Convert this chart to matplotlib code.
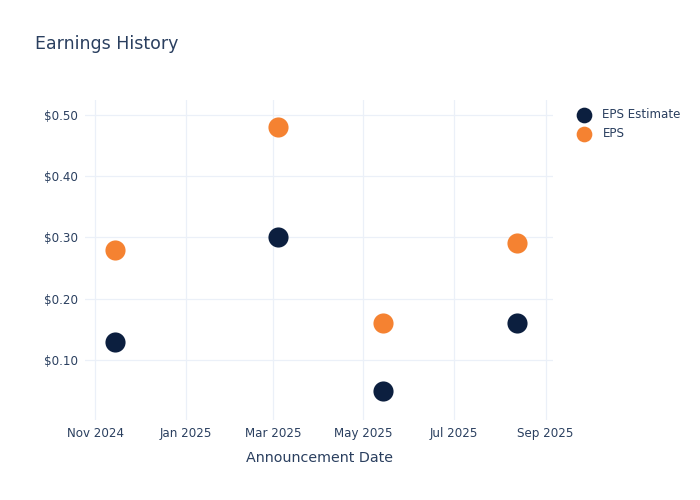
import matplotlib
matplotlib.use('Agg')
import matplotlib.pyplot as plt
import matplotlib.dates as mdates
import numpy as np
from datetime import datetime

# data
dates = ['2024-11-14', '2025-03-04', '2025-05-14', '2025-08-13']
eps_estimate = [0.13, 0.30, 0.05, 0.16]
eps_actual = [0.28, 0.48, 0.16, 0.29]
series_names = ['EPS Estimate', 'EPS']

TEXT = '#2a3f5f'
GRID = '#ebf0f8'
NAVY = '#0c1f3f'
ORANGE = '#f58231'

x = [datetime.strptime(d, '%Y-%m-%d') for d in dates]

fig = plt.figure(figsize=(7, 5), dpi=100)
ax = fig.add_axes([85/700, 1-420/500, (553-85)/700, (420-100)/500])

ax.scatter(x, eps_estimate, s=210, color=NAVY, label=series_names[0], zorder=3, linewidths=0)
ax.scatter(x, eps_actual, s=210, color=ORANGE, label=series_names[1], zorder=3, linewidths=0)

ax.set_xlim(datetime(2024, 10, 25), datetime(2025, 9, 6))
ax.set_ylim(0.002, 0.524)

ax.xaxis.set_major_locator(mdates.MonthLocator(bymonth=[1, 3, 5, 7, 9, 11]))
ax.xaxis.set_major_formatter(mdates.DateFormatter('%b %Y'))
ax.set_yticks([0.1, 0.2, 0.3, 0.4, 0.5])
ax.set_yticklabels(['$%.2f' % v for v in [0.1, 0.2, 0.3, 0.4, 0.5]])

for s in ax.spines.values():
    s.set_visible(False)
ax.grid(True, color=GRID, linewidth=0.9)
ax.set_axisbelow(True)
ax.tick_params(length=0, labelsize=8.6, colors=TEXT, pad=5)

ax.set_xlabel('Announcement Date', fontsize=10.3, color=TEXT, labelpad=8)

fig.text(35/700, 1-44/500, 'Earnings History', fontsize=12.5, color=TEXT, va='center')

leg = fig.legend(loc='upper left', bbox_to_anchor=(572/700, 1-108/500), frameon=False,
                 fontsize=8.6, labelcolor=TEXT, handletextpad=0.55, borderaxespad=0,
                 borderpad=0, labelspacing=0.5, markerscale=0.78)

fig.savefig('out.png', dpi=100)
